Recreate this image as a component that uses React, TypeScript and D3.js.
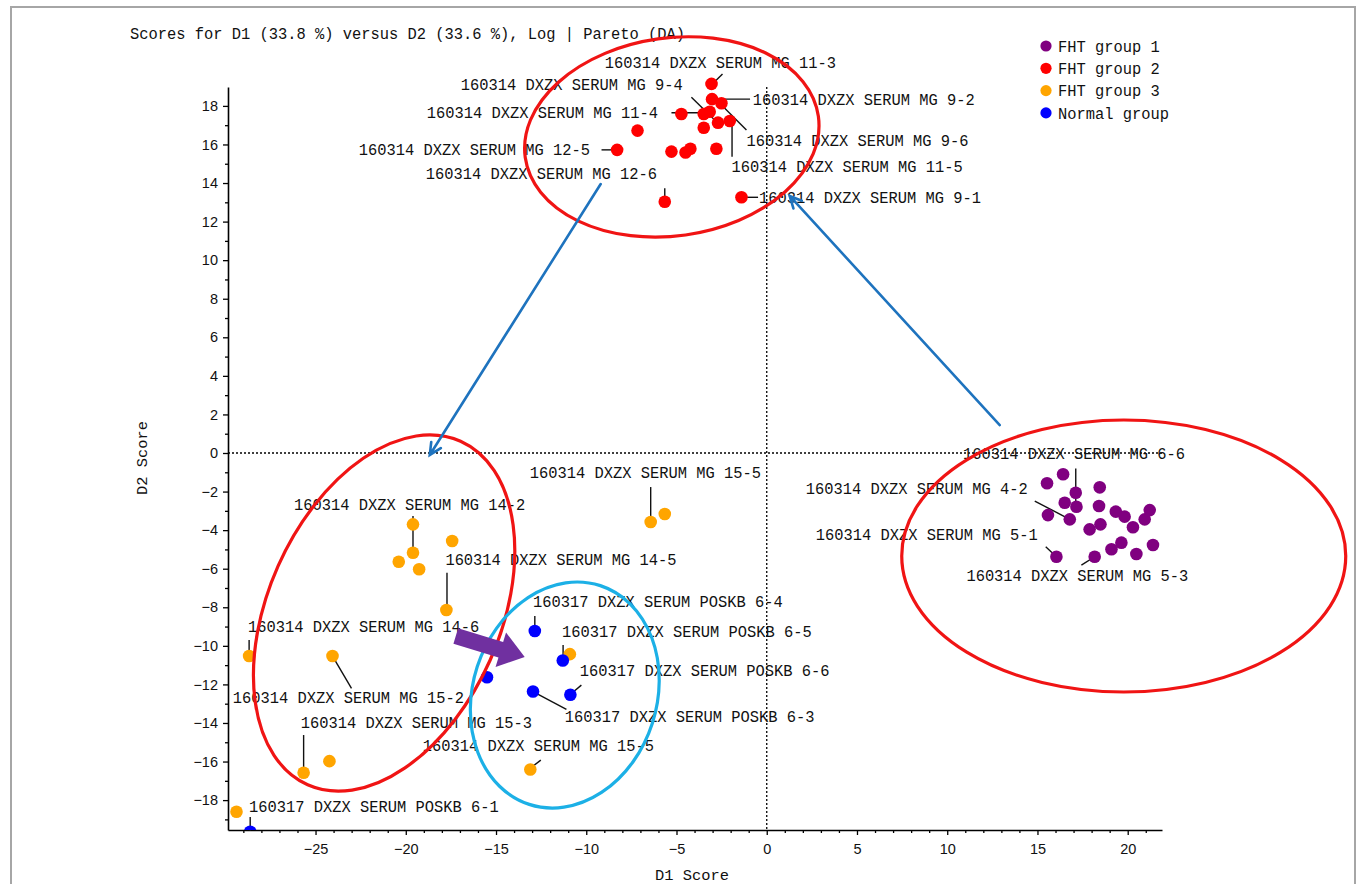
import React, { useRef, useEffect } from "react";
import * as d3 from "d3";

// D1 / D2 scores
const purpleX = [16.42, 15.53, 18.45, 17.12, 16.51, 17.16, 18.41, 15.58, 16.79, 19.34, 19.83, 21.22, 20.94, 20.29, 18.49, 17.89, 19.65, 19.1, 21.4, 20.48, 16.05, 18.17];
const purpleY = [-1.1, -1.57, -1.78, -2.06, -2.58, -2.79, -2.75, -3.22, -3.44, -3.04, -3.3, -2.96, -3.44, -3.85, -3.7, -3.96, -4.65, -4.99, -4.77, -5.24, -5.38, -5.38];

const redX = [-3.06, -3.03, -2.51, -4.73, -3.49, -3.16, -2.7, -2.05, -7.16, -3.49, -8.29, -5.28, -4.5, -4.23, -2.79, -5.65, -1.4];
const redY = [19.14, 18.35, 18.14, 17.58, 17.58, 17.7, 17.13, 17.22, 16.72, 16.87, 15.72, 15.63, 15.58, 15.78, 15.78, 13.03, 13.26];

const orangeX = [-19.6, -17.43, -19.6, -20.39, -19.26, -17.75, -28.68, -24.06, -10.91, -6.43, -5.65, -25.66, -24.23, -13.1, -29.38];
const orangeY = [-3.7, -4.56, -5.17, -5.64, -6.03, -8.14, -10.53, -10.53, -10.43, -3.58, -3.16, -16.58, -15.98, -16.41, -18.6];

const blueX = [-12.85, -11.3, -15.5, -12.95, -10.88, -28.62];
const blueY = [-9.23, -10.76, -11.63, -12.37, -12.54, -19.64];

const groupNames = ["FHT group 1", "FHT group 2", "FHT group 3", "Normal group"];
const groupColors = ["#800080", "#ff0000", "#ffa500", "#0000ff"];

const xTicks = [-25, -20, -15, -10, -5, 0, 5, 10, 15, 20];
const xMinor = [-29, -28, -27, -26, -24, -23, -22, -21, -19, -18, -17, -16, -14, -13, -12, -11, -9, -8, -7, -6, -4, -3, -2, -1, 1, 2, 3, 4, 6, 7, 8, 9, 11, 12, 13, 14, 16, 17, 18, 19, 21];
const yTicks = [-18, -16, -14, -12, -10, -8, -6, -4, -2, 0, 2, 4, 6, 8, 10, 12, 14, 16, 18];
const yMinor = [-19, -17, -15, -13, -11, -9, -7, -5, -3, -1, 1, 3, 5, 7, 9, 11, 13, 15, 17];

// sample labels: group, point index, text
const labelGroup = [1, 1, 1, 1, 1, 1, 1, 1, 1, 0, 0, 0, 0, 2, 2, 2, 2, 2, 2, 2, 3, 3, 3, 3, 3];
const labelPoint = [0, 1, 2, 4, 6, 7, 10, 15, 16, 5, 8, 20, 21, 2, 5, 6, 7, 9, 11, 13, 0, 1, 4, 3, 5];
const labelText = [
  "160314 DXZX SERUM MG 11-3",
  "160314 DXZX SERUM MG 9-2",
  "160314 DXZX SERUM MG 9-6",
  "160314 DXZX SERUM MG 11-4",
  "160314 DXZX SERUM MG 9-4",
  "160314 DXZX SERUM MG 11-5",
  "160314 DXZX SERUM MG 12-5",
  "160314 DXZX SERUM MG 12-6",
  "160314 DXZX SERUM MG 9-1",
  "160314 DXZX SERUM MG 6-6",
  "160314 DXZX SERUM MG 4-2",
  "160314 DXZX SERUM MG 5-1",
  "160314 DXZX SERUM MG 5-3",
  "160314 DXZX SERUM MG 14-2",
  "160314 DXZX SERUM MG 14-5",
  "160314 DXZX SERUM MG 14-6",
  "160314 DXZX SERUM MG 15-2",
  "160314 DXZX SERUM MG 15-5",
  "160314 DXZX SERUM MG 15-3",
  "160314 DXZX SERUM MG 15-5",
  "160317 DXZX SERUM POSKB 6-4",
  "160317 DXZX SERUM POSKB 6-5",
  "160317 DXZX SERUM POSKB 6-6",
  "160317 DXZX SERUM POSKB 6-3",
  "160317 DXZX SERUM POSKB 6-1",
];

// label placement relative to its point (px): text dx, dy, leader x1, y1, x2, y2
const labelLayout = [
  [-106.7, -22, 1.6, -0.7, 11, -10],
  [40.7, 0, 3, 0, 38, 0],
  [25, 36.7, -1.7, 0, 25, 26.7],
  [-277, -1.3, -32.3, -1.3, -0.7, -1.3],
  [-257.3, -38.7, -26.6, -25.4, 0, 0.6],
  [1.7, 45.7, 2.3, -1, 2.3, 35.7],
  [-258.3, -0.7, -15.6, 0, -2.3, 0],
  [-239, -28.7, 0, -13.4, 0, -2.4],
  [17.6, 0, 5, 0, 16.6, 0],
  [-113.4, -53.4, -0.7, -38.4, -0.7, -2.7],
  [-264, -31, -35, -18.3, 0, 0],
  [-240.7, -22.7, -10.7, -10, 0, 0],
  [-128.3, 18.3, -13.3, 8.3, 0, 0],
  [-119, -48.7, 0, -36.7, 0, -2],
  [-1, -50.7, 0.6, -37.3, 0.6, -2],
  [-1, -29.3, 0, -16, 0, -2],
  [-99.7, 41, 0, 0, 19, 32.3],
  [-121, -50, 0, -35, 0, -2],
  [-2.8, -50.7, 0, -37.7, 0, -2.7],
  [-107.5, -24.3, 0, -1.3, 10.5, -9.3],
  [-1.7, -29.3, 0, -15, 0, -2],
  [-0.7, -28.8, 0.3, -15.5, 0.3, -2],
  [9.3, -24.7, 1, -1.4, 11, -9.7],
  [31.7, 25.2, 0, 0.2, 33.4, 17.8],
  [-1.1, -25.7, 0, -14.7, 0, -1],
];

// hand-drawn annotations (centre in data units, radii px, rotation deg)
const ellipseCx = [-5.26, -21.2, -11.19, 19.78];
const ellipseCy = [16.39, -8.3, -12.55, -5.34];
const ellipseRx = [148, 116, 92, 222];
const ellipseRy = [99, 188, 115, 136];
const ellipseRot = [-8, 24, 18, 0];
const ellipseColor = ["#f01414", "#f01414", "#1cb0e6", "#f01414"];

const arrowFrom = [[-9.2, 13.95], [12.91, 1.45]];
const arrowTo = [[-18.67, -0.1], [1.27, 13.33]];
const bigArrowFrom = [-17.23, -9.49];
const bigArrowTo = [-13.41, -10.58];

const W = 1360;
const H = 884;
const MONO = "'Liberation Mono', 'DejaVu Sans Mono', monospace";
const CHAR_W = 9.25;

const App: React.FC = () => {
  const ref = useRef<SVGSVGElement>(null);

  useEffect(() => {
    const svg = d3.select(ref.current);
    svg.selectAll("*").remove();

    const x = d3.scaleLinear().domain([-29.85, 21.9]).range([228, 1162]);
    const y = d3.scaleLinear().domain([-19.55, 18.98]).range([830, 87]);

    const groupsX = [purpleX, redX, orangeX, blueX];
    const groupsY = [purpleY, redY, orangeY, blueY];

    svg.append("rect").attr("width", W).attr("height", H).attr("fill", "#fff");
    svg
      .append("rect")
      .attr("x", 11)
      .attr("y", 7)
      .attr("width", 1344)
      .attr("height", 920)
      .attr("fill", "none")
      .attr("stroke", "#a6a6a6")
      .attr("stroke-width", 2);

    svg
      .append("defs")
      .append("clipPath")
      .attr("id", "plotclip")
      .append("rect")
      .attr("x", 0)
      .attr("y", 0)
      .attr("width", W)
      .attr("height", y(-19.55));

    const monoText = (sel: any, t: string, size: number) =>
      sel
        .attr("font-family", MONO)
        .attr("font-size", size)
        .attr("fill", "#111")
        .attr("textLength", t.length * CHAR_W)
        .attr("lengthAdjust", "spacingAndGlyphs")
        .text(t);

    // title
    monoText(
      svg.append("text").attr("x", 130).attr("y", 33).attr("dy", "0.35em"),
      "Scores for D1 (33.8 %) versus D2 (33.6 %), Log | Pareto (DA)",
      16
    );

    // axes
    const yAxisG = svg
      .append("g")
      .attr("transform", `translate(${x(-29.85)},0)`)
      .call(d3.axisLeft(y).tickValues(yTicks).tickSize(5).tickSizeOuter(0).tickPadding(5));
    svg
      .append("g")
      .attr("transform", `translate(${x(-29.85)},0)`)
      .call(d3.axisLeft(y).tickValues(yMinor).tickSize(3).tickFormat(() => ""))
      .call((g) => g.select(".domain").remove());

    const xAxisG = svg
      .append("g")
      .attr("transform", `translate(0,${y(-19.55)})`)
      .call(d3.axisBottom(x).tickValues(xTicks).tickSize(5).tickSizeOuter(0).tickPadding(9));
    svg
      .append("g")
      .attr("transform", `translate(0,${y(-19.55)})`)
      .call(d3.axisBottom(x).tickValues(xMinor).tickSize(3).tickFormat(() => ""))
      .call((g) => g.select(".domain").remove());

    [yAxisG, xAxisG].forEach((g) => {
      g.select(".domain").attr("stroke", "#000").attr("stroke-width", 1.6);
      g.selectAll("text")
        .attr("font-family", "'Liberation Sans', Arial, sans-serif")
        .attr("font-size", 14.5)
        .attr("fill", "#111");
    });
    svg.selectAll(".tick line").attr("stroke", "#000").attr("stroke-width", 1.3);

    monoText(
      svg.append("text").attr("x", 655).attr("y", 875).attr("dy", "0.35em"),
      "D1 Score",
      15.5
    );
    monoText(
      svg
        .append("text")
        .attr("transform", "translate(142,495) rotate(-90)")
        .attr("dy", "0.35em"),
      "D2 Score",
      15.5
    );

    // zero lines
    svg
      .append("line")
      .attr("x1", x(-29.85))
      .attr("x2", x(21.9))
      .attr("y1", y(0))
      .attr("y2", y(0))
      .attr("stroke", "#000")
      .attr("stroke-width", 1.3)
      .attr("stroke-dasharray", "2,2");
    svg
      .append("line")
      .attr("x1", x(0))
      .attr("x2", x(0))
      .attr("y1", y(18.98))
      .attr("y2", y(-19.55))
      .attr("stroke", "#000")
      .attr("stroke-width", 1.3)
      .attr("stroke-dasharray", "2,2");

    // labels and leader lines
    const labels = svg.append("g");
    labelText.forEach((t, i) => {
      const g = labelGroup[i];
      const p = labelPoint[i];
      const px = x(groupsX[g][p]);
      const py = y(groupsY[g][p]);
      const [tx, ty, x1, y1, x2, y2] = labelLayout[i];
      labels
        .append("line")
        .attr("x1", px + x1)
        .attr("y1", py + y1)
        .attr("x2", px + x2)
        .attr("y2", py + y2)
        .attr("stroke", "#111")
        .attr("stroke-width", 1.4);
      monoText(
        labels.append("text").attr("x", px + tx).attr("y", py + ty).attr("dy", "0.35em"),
        t,
        16.2
      );
    });

    // points
    const pts = svg.append("g").attr("clip-path", "url(#plotclip)");
    groupsX.forEach((gx, g) => {
      pts
        .selectAll(null)
        .data(gx.map((v, i) => [v, groupsY[g][i]]))
        .enter()
        .append("circle")
        .attr("cx", (d) => x(d[0]))
        .attr("cy", (d) => y(d[1]))
        .attr("r", 6.3)
        .attr("fill", groupColors[g]);
    });

    // ellipses
    ellipseCx.forEach((cx, i) => {
      svg
        .append("ellipse")
        .attr("transform", `translate(${x(cx)},${y(ellipseCy[i])}) rotate(${ellipseRot[i]})`)
        .attr("rx", ellipseRx[i])
        .attr("ry", ellipseRy[i])
        .attr("fill", "none")
        .attr("stroke", ellipseColor[i])
        .attr("stroke-width", 3.2);
    });

    // thin blue arrows
    arrowFrom.forEach((f, i) => {
      const sx = x(f[0]);
      const sy = y(f[1]);
      const ex = x(arrowTo[i][0]);
      const ey = y(arrowTo[i][1]);
      const ang = Math.atan2(ey - sy, ex - sx);
      const head = 13;
      const spread = 0.45;
      const path = d3.path();
      path.moveTo(sx, sy);
      path.lineTo(ex, ey);
      path.moveTo(ex - head * Math.cos(ang - spread), ey - head * Math.sin(ang - spread));
      path.lineTo(ex, ey);
      path.lineTo(ex - head * Math.cos(ang + spread), ey - head * Math.sin(ang + spread));
      svg
        .append("path")
        .attr("d", path.toString())
        .attr("fill", "none")
        .attr("stroke", "#1e73be")
        .attr("stroke-width", 2.6)
        .attr("stroke-linecap", "round");
    });

    // purple block arrow
    {
      const sx = x(bigArrowFrom[0]);
      const sy = y(bigArrowFrom[1]);
      const ex = x(bigArrowTo[0]);
      const ey = y(bigArrowTo[1]);
      const len = Math.hypot(ex - sx, ey - sy);
      const ux = (ex - sx) / len;
      const uy = (ey - sy) / len;
      const nx = -uy;
      const ny = ux;
      const shaft = 8;
      const wing = 18;
      const headLen = 25;
      const bx = ex - ux * headLen;
      const by = ey - uy * headLen;
      const poly = [
        [sx + nx * shaft, sy + ny * shaft],
        [bx + nx * shaft, by + ny * shaft],
        [bx + nx * wing, by + ny * wing],
        [ex, ey],
        [bx - nx * wing, by - ny * wing],
        [bx - nx * shaft, by - ny * shaft],
        [sx - nx * shaft, sy - ny * shaft],
      ];
      svg
        .append("polygon")
        .attr("points", poly.map((p) => p.join(",")).join(" "))
        .attr("fill", "#7030a0");
    }

    // legend
    const legend = svg.append("g").attr("transform", "translate(1046,46)");
    groupNames.forEach((name, i) => {
      legend
        .append("circle")
        .attr("cx", 0)
        .attr("cy", i * 22.3)
        .attr("r", 5.6)
        .attr("fill", groupColors[i]);
      monoText(
        legend.append("text").attr("x", 12).attr("y", i * 22.3).attr("dy", "0.35em"),
        name,
        16
      );
    });
  }, []);

  return (
    <svg
      ref={ref}
      width={W}
      height={H}
      style={{ position: "absolute", left: 0, top: 0, display: "block" }}
    ></svg>
  );
};

export default App;
